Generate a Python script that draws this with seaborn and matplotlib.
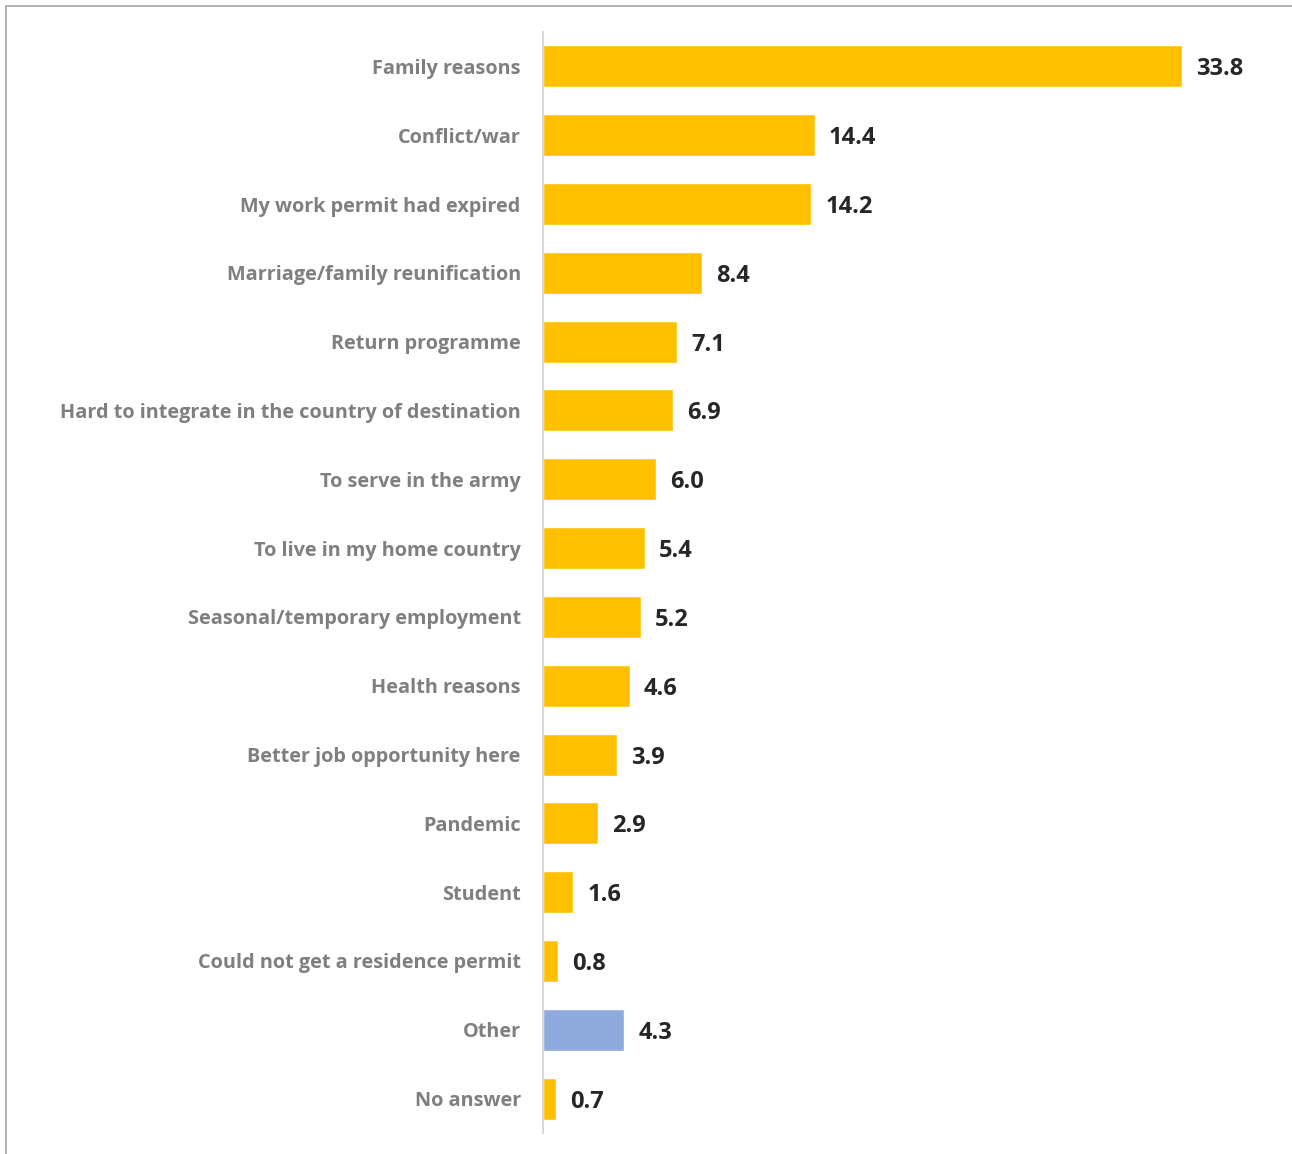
import matplotlib
matplotlib.use("Agg")
import matplotlib.pyplot as plt
import seaborn as sns
import pandas as pd

# reasons for returning (%)
reasons = ["Family reasons", "Conflict/war", "My work permit had expired",
           "Marriage/family reunification", "Return programme",
           "Hard to integrate in the country of destination",
           "To serve in the army", "To live in my home country",
           "Seasonal/temporary employment", "Health reasons",
           "Better job opportunity here", "Pandemic", "Student",
           "Could not get a residence permit", "Other", "No answer"]
shares = [33.8, 14.4, 14.2, 8.4, 7.1, 6.9, 6.0, 5.4, 5.2, 4.6, 3.9, 2.9, 1.6, 0.8, 4.3, 0.7]
group = ["main"] * 14 + ["other", "main"]

df = pd.DataFrame({"reason": reasons, "share": shares, "group": group})

sns.set_style("white")
plt.rcParams['font.family'] = ['Open Sans', 'DejaVu Sans']

fig = plt.figure(figsize=(12.92, 11.54), dpi=100)
ax = fig.add_axes([543 / 1292, 1 - 1133 / 1154, (1280 - 543) / 1292, (1133 - 32) / 1154])

sns.barplot(data=df, x="share", y="reason", hue="group",
            palette={"main": "#FFC000", "other": "#8FAADC"}, saturation=1,
            dodge=False, width=0.61, legend=False, ax=ax, orient="h")

for c in ax.containers:
    texts = ax.bar_label(c, labels=[f"{v:.1f}" if v == v else "" for v in c.datavalues],
                         padding=10, fontsize=17, fontweight="bold", color="#262626")
    for t in texts:
        t.set_va("center_baseline")

ax.set_xlim(0, 39)
ax.set_ylim(15.5, -0.5)
ax.set_xlabel("")
ax.set_ylabel("")
ax.set_xticks([])
ax.tick_params(axis="y", length=0, pad=16)
for lab in ax.get_yticklabels():
    lab.set_fontsize(14.3)
    lab.set_fontweight("bold")
    lab.set_color("#7F7F7F")
for s in ["top", "right", "bottom"]:
    ax.spines[s].set_visible(False)
ax.spines["left"].set_color("#D9D9D9")
ax.spines["left"].set_linewidth(1.5)

# outer frame of the chart area
frame = plt.Rectangle((5.5 / 1292, -0.1), 1.2, 1 - 6 / 1154 + 0.1, transform=fig.transFigure,
                      fill=False, edgecolor="#A6A6A6", linewidth=1.2)
fig.patches.append(frame)

fig.savefig("out.png", dpi=100)
